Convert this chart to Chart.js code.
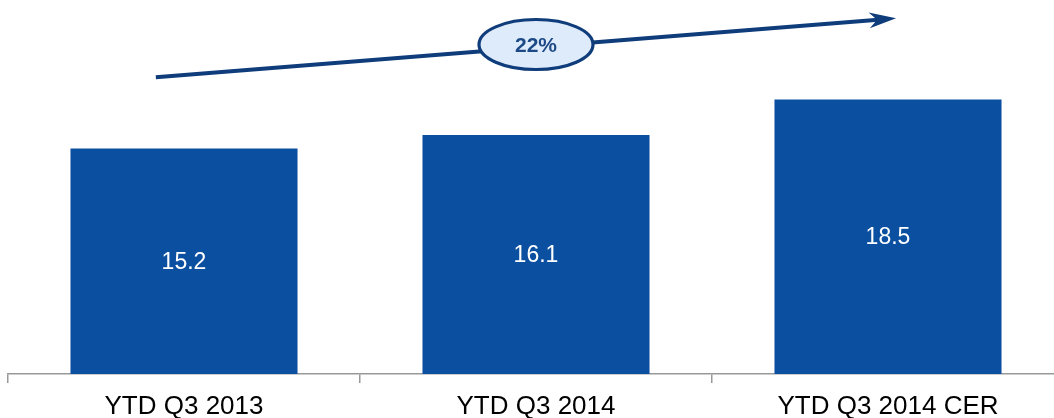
<!DOCTYPE html>
<html>
<head>
<meta charset="utf-8">
<script src="https://cdn.jsdelivr.net/npm/chart.js@4.4.1/dist/chart.umd.min.js"></script>
<style>
  html, body { margin: 0; padding: 0; background: #ffffff; overflow: hidden; }
  #wrap { width: 1054px; height: 418px; position: relative; overflow: hidden; }
</style>
</head>
<body>
<div id="wrap"><canvas id="c" width="1064" height="418"></canvas></div>
<script>
const categories = ['YTD Q3 2013', 'YTD Q3 2014', 'YTD Q3 2014 CER'];
const values = [15.2, 16.1, 18.5];
// growth arrow: [category index, value] for start and tip
const arrowStart = [-0.08, 20.0];
const arrowEnd = [2.023, 23.97];
const growthLabel = '22%';
const growthLabelPos = [1.0, 22.2];

const FONT = '"Liberation Sans", Arial, sans-serif';

const barLabels = {
  id: 'barLabels',
  afterDatasetsDraw(chart) {
    const ctx = chart.ctx;
    const meta = chart.getDatasetMeta(0);
    ctx.save();
    ctx.fillStyle = '#ffffff';
    ctx.font = '23px ' + FONT;
    ctx.textAlign = 'center';
    ctx.textBaseline = 'middle';
    meta.data.forEach((bar, i) => {
      const y = (bar.y + bar.base) / 2 + 1;
      ctx.fillText(values[i].toFixed(1), bar.x, y);
    });
    ctx.restore();
  }
};

const growthArrow = {
  id: 'growthArrow',
  afterDraw(chart) {
    const ctx = chart.ctx;
    const xs = chart.scales.x, ys = chart.scales.y;
    const x0 = xs.getPixelForValue(arrowStart[0]), y0 = ys.getPixelForValue(arrowStart[1]);
    const x1 = xs.getPixelForValue(arrowEnd[0]), y1 = ys.getPixelForValue(arrowEnd[1]);
    const dx = x1 - x0, dy = y1 - y0, len = Math.hypot(dx, dy);
    const ux = dx / len, uy = dy / len, nx = -uy, ny = ux;
    const col = '#0f3c7a';
    ctx.save();
    ctx.strokeStyle = col;
    ctx.lineWidth = 4;
    ctx.beginPath();
    ctx.moveTo(x0, y0);
    ctx.lineTo(x1 - 18 * ux, y1 - 18 * uy);
    ctx.stroke();
    // arrowhead
    ctx.fillStyle = col;
    ctx.beginPath();
    ctx.moveTo(x1, y1);
    ctx.lineTo(x1 - 27 * ux + 8 * nx, y1 - 27 * uy + 8 * ny);
    ctx.lineTo(x1 - 19 * ux, y1 - 19 * uy);
    ctx.lineTo(x1 - 27 * ux - 8 * nx, y1 - 27 * uy - 8 * ny);
    ctx.closePath();
    ctx.fill();
    // ellipse label
    const cx = xs.getPixelForValue(growthLabelPos[0]);
    const cy = ys.getPixelForValue(growthLabelPos[1]);
    ctx.beginPath();
    ctx.ellipse(cx, cy, 57, 25, 0, 0, Math.PI * 2);
    ctx.fillStyle = '#deebfb';
    ctx.fill();
    ctx.lineWidth = 3.2;
    ctx.strokeStyle = col;
    ctx.stroke();
    ctx.fillStyle = '#1d4a86';
    ctx.font = 'bold 21px ' + FONT;
    ctx.textAlign = 'center';
    ctx.textBaseline = 'middle';
    ctx.fillText(growthLabel, cx, cy + 2);
    ctx.restore();
  }
};

new Chart(document.getElementById('c'), {
  type: 'bar',
  data: {
    labels: categories,
    datasets: [{
      data: values,
      backgroundColor: '#0b4fa0',
      borderWidth: 0,
      categoryPercentage: 1.0,
      barPercentage: 0.645
    }]
  },
  options: {
    responsive: false,
    animation: false,
    devicePixelRatio: 1,
    layout: { padding: { left: 8, right: 0, top: 0, bottom: 0 } },
    plugins: { legend: { display: false }, tooltip: { enabled: false } },
    scales: {
      x: {
        afterFit(scale) { scale.height = 44; },
        grid: {
          offset: true,
          drawOnChartArea: false,
          drawTicks: true,
          tickLength: 9,
          color: '#999999',
          lineWidth: 1.5
        },
        border: { display: true, color: '#999999', width: 1.5 },
        ticks: {
          color: '#000000',
          font: { family: FONT, size: 26 },
          padding: 8,
          maxRotation: 0,
          autoSkip: false
        }
      },
      y: {
        display: false,
        min: 0,
        max: 25.2
      }
    }
  },
  plugins: [barLabels, growthArrow]
});
</script>
</body>
</html>
